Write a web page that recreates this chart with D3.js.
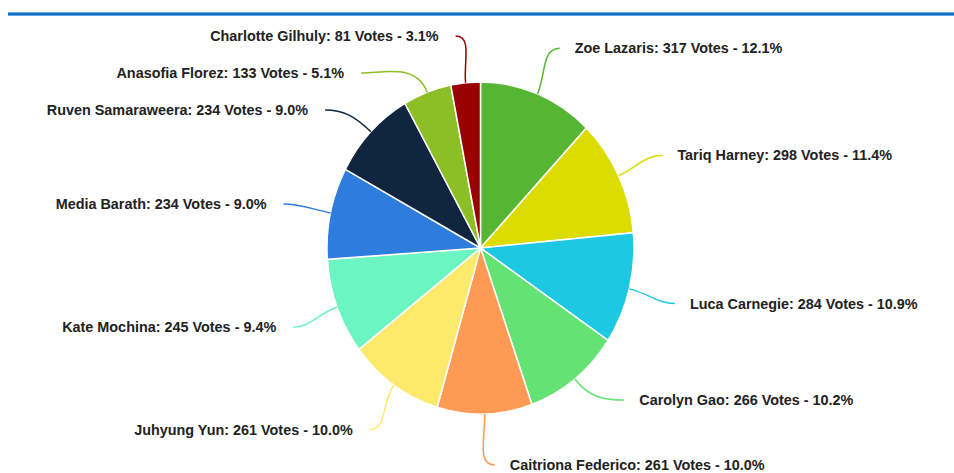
<!DOCTYPE html>
<html>
<head>
<meta charset="utf-8">
<script src="https://cdn.jsdelivr.net/npm/d3@7"></script>
<style>
  body { margin: 0; background: #fff; }
  svg { display: block; }
  .lbl { font-family: "Liberation Sans", Arial, sans-serif; font-weight: bold; font-size: 14.4px; fill: #222; }
</style>
</head>
<body>
<div id="chart-area"></div>
<script>
const names = ["Zoe Lazaris", "Tariq Harney", "Luca Carnegie", "Carolyn Gao", "Caitriona Federico",
               "Juhyung Yun", "Kate Mochina", "Media Barath", "Ruven Samaraweera", "Anasofia Florez", "Charlotte Gilhuly"]
const votes = [317, 298, 284, 266, 261, 261, 245, 234, 234, 133, 81]
const colors = ["#56b633", "#dcdc00", "#1ec8e2", "#64e273", "#ff9a55",
                "#fde96b", "#6af5c2", "#2e7cdc", "#0f2540", "#8cbf26", "#990000"]

function drawChart() {
    const svgWidth = 954
    const svgHeight = 473
    const cx = 480.5, cy = 248
    const rx = 153.5, ry = 166

    const svg = d3.select("#chart-area")
                .append("svg")
                .attr("width", svgWidth)
                .attr("height", svgHeight)

    // blue rule across the top
    svg.append("rect").attr("x", 8).attr("y", 12).attr("width", svgWidth - 8).attr("height", 4).attr("fill", "#5aa6e6")
    svg.append("rect").attr("x", 8).attr("y", 13).attr("width", svgWidth - 8).attr("height", 2).attr("fill", "#1b6fc2")

    const total = d3.sum(votes)
    const data = names.map((n, i) => ({ name: n, votes: votes[i], color: colors[i] }))

    const pie = d3.pie().sort(null).value(d => d.votes)
    const arcs = pie(data)

    // pie is slightly taller than wide, so draw a circle and stretch it
    const arc = d3.arc().innerRadius(0).outerRadius(rx)
    const pieG = svg.append("g")
        .attr("transform", `translate(${cx},${cy}) scale(1,${ry / rx})`)
    pieG.selectAll("path")
        .data(arcs)
        .enter().append("path")
        .attr("d", arc)
        .attr("fill", d => d.data.color)
        .attr("stroke", "#fff")
        .attr("stroke-width", 1.5)
        .attr("vector-effect", "non-scaling-stroke")

    // label layout
    const idealR = 1.31  // label height relative to pie radius
    const endR = 1.31
    const gap = 37
    const bottomGap = 65 // extra room above the label sitting under the pie
    const top = 36, bottom = 465
    const items = arcs.map(d => {
        const a = (d.startAngle + d.endAngle) / 2
        return {
            d, a,
            side: a < Math.PI ? 1 : -1,
            under: d.startAngle < Math.PI && d.endAngle > Math.PI,
            sx: cx + rx * Math.sin(a),
            sy: cy - ry * Math.cos(a),
            y: cy - ry * idealR * Math.cos(a) + 2
        }
    })

    ;[1, -1].forEach(side => {
        const list = items.filter(it => it.side === side).sort((p, q) => p.y - q.y)
        let prev = -Infinity
        list.forEach(it => {
            it.y = Math.max(it.y, prev + gap, top)
            prev = it.y
        })
        let next = Infinity, nextUnder = false
        list.slice().reverse().forEach(it => {
            it.y = Math.min(it.y, next - (nextUnder ? bottomGap : gap), bottom)
            next = it.y
            nextUnder = it.under
        })
    })

    items.forEach(it => {
        const t = (it.y - cy) / ry
        let ex
        if (Math.abs(t) > 1.25) {
            ex = it.sx + it.side * 10
        } else {
            ex = cx + it.side * rx * Math.sqrt(Math.max(0, endR * endR - t * t))
        }
        it.ex = ex
    })

    const lines = svg.append("g")
    lines.selectAll("path")
        .data(items)
        .enter().append("path")
        .attr("fill", "none")
        .attr("stroke", it => it.d.data.color)
        .attr("stroke-width", 1.5)
        .attr("d", it => {
            const k = 0.45
            const dist = Math.hypot(it.ex - it.sx, it.y - it.sy)
            const c1x = it.sx + Math.sin(it.a) * dist * k
            const c1y = it.sy - Math.cos(it.a) * dist * k
            const c2x = it.ex - it.side * Math.max(10, dist * 0.35)
            return `M${it.sx},${it.sy} C${c1x},${c1y} ${c2x},${it.y} ${it.ex},${it.y}`
        })

    const fmt = d3.format(".1f")
    svg.append("g").selectAll("text")
        .data(items)
        .enter().append("text")
        .attr("class", "lbl")
        .attr("x", it => it.side > 0 ? it.ex + 15 : it.ex - 17)
        .attr("y", it => it.y)
        .attr("dy", "0.35em")
        .attr("text-anchor", it => it.side > 0 ? "start" : "end")
        .text(it => `${it.d.data.name}: ${it.d.data.votes} Votes - ${fmt(it.d.data.votes / total * 100)}%`)
}

drawChart()
</script>
</body>
</html>
